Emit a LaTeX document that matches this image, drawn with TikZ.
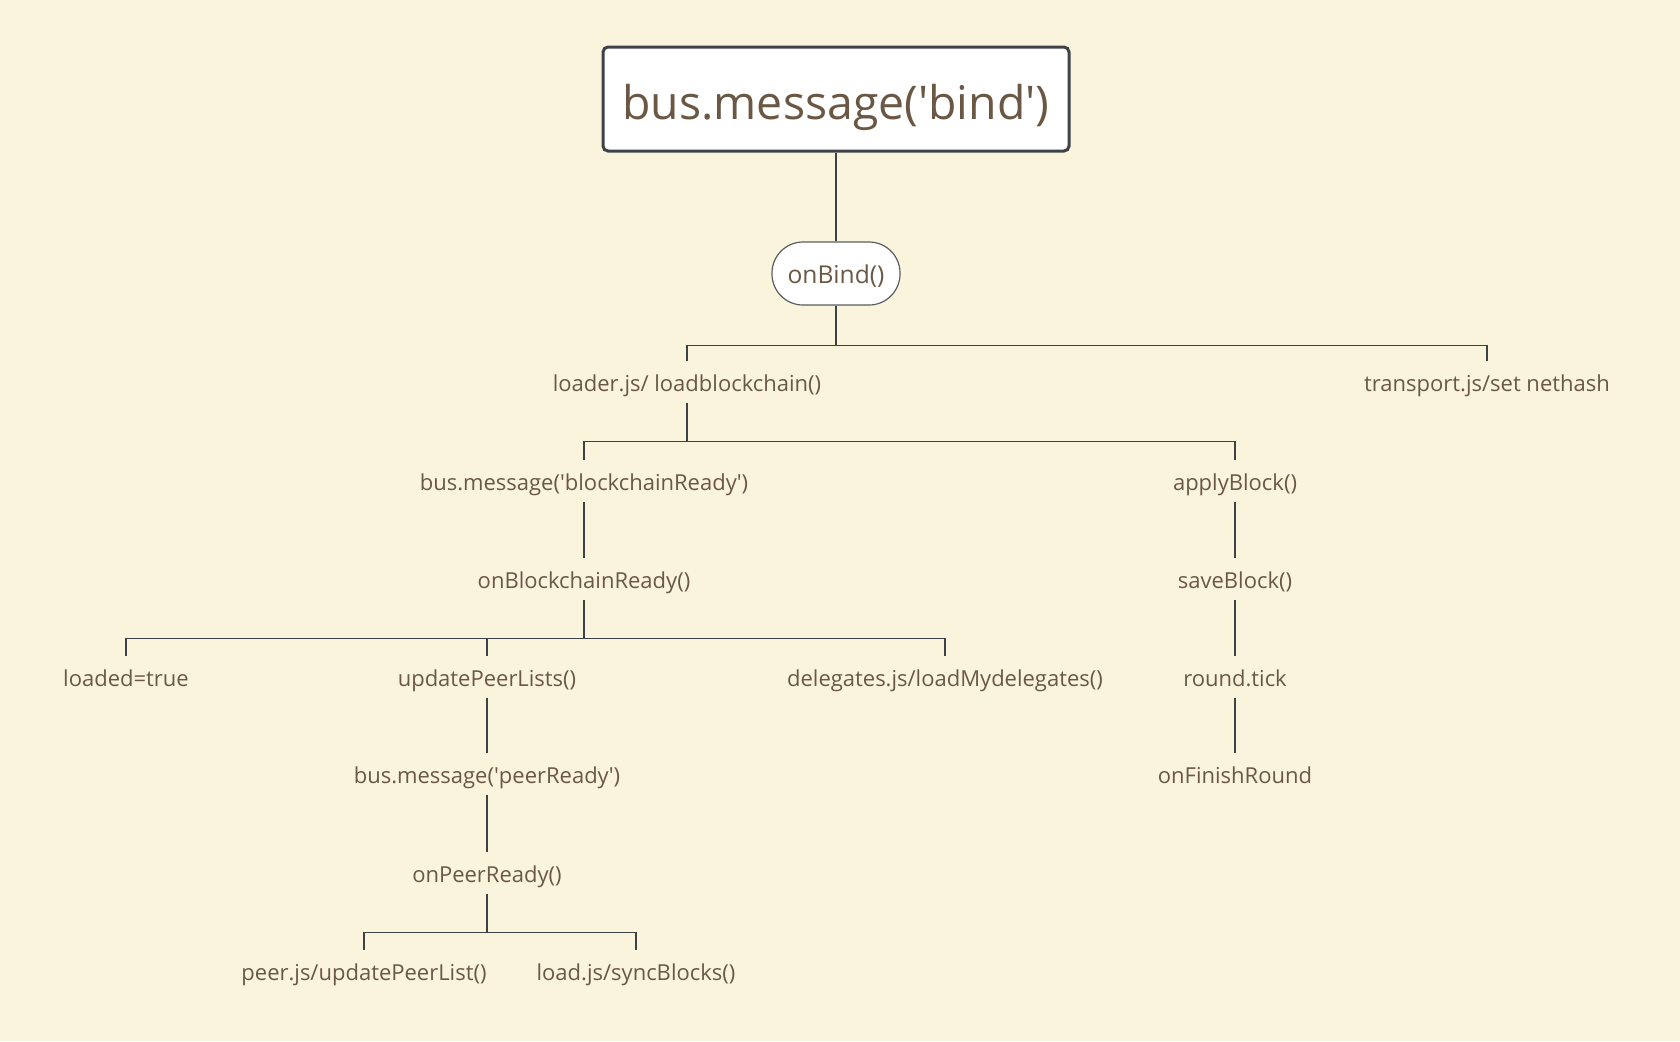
\documentclass[tikz,border=0pt]{standalone}
\usepackage{fontspec}
\setsansfont{Open Sans}
\usetikzlibrary{calc}
\definecolor{paper}{HTML}{FBF4DD}
\definecolor{ink}{HTML}{6B5844}
\definecolor{wire}{HTML}{3C4247}
\newcommand{\sq}{\textquotesingle}
\tikzset{
	lbl/.style={text=ink,inner sep=0pt,minimum height=21pt,text height=11.5pt,text depth=2.5pt,font=\sffamily\fontsize{11}{13}\selectfont},
	conn/.style={draw=wire,line width=0.8pt},
}

\begin{document}
\begin{tikzpicture}[x=0.5pt,y=-0.5pt,font=\sffamily]
	\fill[paper] (0,0) rectangle (1680,1041);
	\useasboundingbox (0,0) rectangle (1680,1041);
	\node[draw=wire,fill=white,line width=1.5pt,rounded corners=2.5pt,minimum width=233pt,minimum height=52pt,text height=22pt,text depth=2pt,text=ink,font=\sffamily\fontsize{23.2}{26}\selectfont] (bind) at (836,99) {bus.message(\sq bind\sq)};
	\node[draw=wire!85,fill=white,line width=0.6pt,rounded corners=15.5pt,minimum width=64pt,minimum height=31.5pt,text height=12.5pt,text depth=2.1pt,text=ink,font=\sffamily\fontsize{12.3}{14}\selectfont] (onbind) at (836,273.5) {onBind()};
	\node[lbl] (loader) at (687,382) {loader.js/ loadblockchain()};
	\node[lbl] (transport) at (1487,382) {transport.js/set nethash};
	\node[lbl] (bcready) at (584,481) {bus.message(\sq blockchainReady\sq)};
	\node[lbl] (apply) at (1235,481) {applyBlock()};
	\node[lbl] (onbcready) at (584,579) {onBlockchainReady()};
	\node[lbl] (save) at (1235,579) {saveBlock()};
	\node[lbl] (loaded) at (126,677) {loaded=true};
	\node[lbl] (peerlists) at (487,677) {updatePeerLists()};
	\node[lbl] (delegates) at (945,677) {delegates.js/loadMydelegates()};
	\node[lbl] (tick) at (1235,677) {round.tick};
	\node[lbl] (peerready) at (487,774) {bus.message(\sq peerReady\sq)};
	\node[lbl] (finish) at (1235,774) {onFinishRound};
	\node[lbl] (onpeerready) at (487,873) {onPeerReady()};
	\node[lbl] (peerjs) at (364,971) {peer.js/updatePeerList()};
	\node[lbl] (sync) at (636,971) {load.js/syncBlocks()};
	\draw[conn,line width=1.2pt] (bind.south) -- (onbind.north);
	\draw[conn] (onbind.south) -- ++(0,40) -| (loader.north) (onbind.south) ++(0,40) -| (transport.north);
	\draw[conn] (loader.south) -- ++(0,38) -| (bcready.north) (loader.south) ++(0,38) -| (apply.north);
	\draw[conn] (bcready.south) -- (onbcready.north);
	\draw[conn] (onbcready.south) -- ++(0,38) -| (loaded.north) (onbcready.south) ++(0,38) -| (peerlists.north) (onbcready.south) ++(0,38) -| (delegates.north);
	\draw[conn] (apply.south) -- (save.north) (save.south) -- (tick.north) (tick.south) -- (finish.north);
	\draw[conn] (peerlists.south) -- (peerready.north) (peerready.south) -- (onpeerready.north);
	\draw[conn] (onpeerready.south) -- ++(0,38) -| (peerjs.north) (onpeerready.south) ++(0,38) -| (sync.north);
\end{tikzpicture}
\end{document}
